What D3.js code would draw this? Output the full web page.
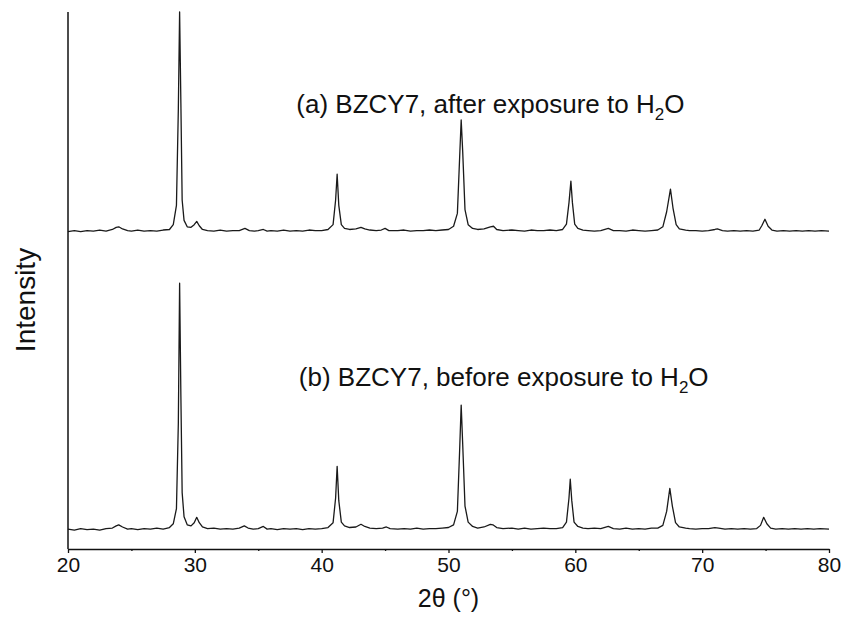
<!DOCTYPE html>
<html>
<head>
<meta charset="utf-8">
<script src="https://cdn.jsdelivr.net/npm/d3@7"></script>
<style>
  body { margin: 0; background: #fff; }
  svg { display: block; font-family: "Liberation Sans", Arial, Helvetica, sans-serif; }
  .trace { fill: none; stroke: #1a1a1a; stroke-width: 1.3; stroke-linejoin: round; }
</style>
</head>
<body>
<svg id="chart" width="846" height="617"></svg>
<script>
// x range (2 theta, degrees) and tick values
const xDomain = [20, 80];
const majorTicks = [20, 30, 40, 50, 60, 70, 80];
const minorTicks = [25, 35, 45, 55, 65, 75];

// intensity, arbitrary units; each trace is drawn on its own offset
const offsetA = 590;
const offsetB = 35;

// (a) BZCY7 after exposure to H2O, [2theta, net intensity]
const traceA = [
  [20.0, 1], [20.5, 3], [21, 1], [21.5, 3], [22, 2], [22.5, 4], [23, 2], [23.5, 5], [23.8, 9], [24.0, 10],
  [24.3, 6], [24.7, 3], [25, 2], [25.5, 4], [26, 2], [26.5, 3], [27, 2], [27.5, 4], [28, 5], [28.3, 14],
  [28.55, 50], [28.7, 230], [28.8, 410], [28.9, 240], [29.0, 60], [29.15, 22], [29.4, 10], [29.7, 9],
  [29.95, 14], [30.15, 20], [30.35, 12], [30.6, 5], [31, 3], [31.5, 2], [32, 4], [32.5, 2], [33, 3],
  [33.5, 3], [33.95, 7], [34.3, 3], [34.7, 2], [35, 3], [35.4, 5], [35.7, 2], [36, 3], [36.5, 2], [37, 4],
  [37.5, 2], [38, 3], [38.5, 2], [39, 4], [39.5, 3], [40, 3], [40.5, 5], [40.9, 14], [41.1, 60],
  [41.22, 108], [41.35, 50], [41.55, 14], [41.8, 7], [42.2, 5], [42.7, 6], [43.1, 9], [43.4, 6], [43.8, 4],
  [44.3, 3], [44.7, 4], [45.0, 7], [45.3, 3], [46, 3], [46.5, 4], [47, 2], [47.5, 3], [48, 3], [48.5, 4],
  [49, 3], [49.5, 4], [50, 5], [50.4, 11], [50.7, 35], [50.88, 140], [51.0, 209], [51.12, 150], [51.3, 42],
  [51.55, 14], [51.9, 7], [52.3, 5], [52.8, 6], [53.3, 10], [53.55, 11], [53.8, 5], [54.3, 3], [55, 4],
  [55.5, 3], [56, 2], [56.5, 4], [57, 3], [57.5, 3], [58, 4], [58.5, 3], [59, 5], [59.3, 15], [59.5, 55],
  [59.65, 95], [59.77, 55], [59.95, 15], [60.2, 7], [60.6, 4], [61, 3], [61.5, 2], [62, 3], [62.6, 7],
  [63, 3], [63.5, 3], [64, 2], [64.5, 4], [65, 3], [65.5, 2], [66, 3], [66.5, 4], [66.9, 10], [67.2, 38],
  [67.5, 80], [67.7, 45], [67.95, 14], [68.2, 6], [68.7, 4], [69, 3], [69.5, 3], [70, 2], [70.5, 3],
  [71, 5], [71.2, 6], [71.6, 3], [72, 2], [72.5, 3], [73, 2], [73.5, 3], [74, 2], [74.5, 4], [74.7, 12],
  [74.95, 24], [75.2, 11], [75.5, 4], [75.9, 2], [76.4, 3], [76.9, 2], [77.4, 3], [77.9, 2], [78.4, 3],
  [78.9, 2], [79.4, 3], [80, 2]
];

// (b) BZCY7 before exposure to H2O
const traceB = [
  [20.0, 2], [20.5, 0], [21, 3], [21.5, 1], [22, 2], [22.5, 0], [23, 3], [23.5, 4], [23.8, 8], [24.0, 10],
  [24.3, 6], [24.7, 2], [25, 3], [25.5, 1], [26, 3], [26.5, 2], [27, 4], [27.5, 2], [28, 5], [28.3, 12],
  [28.55, 40], [28.7, 200], [28.8, 460], [28.9, 250], [29.0, 70], [29.15, 25], [29.4, 10], [29.7, 8],
  [29.95, 14], [30.15, 24], [30.35, 14], [30.6, 6], [31, 3], [31.5, 4], [32, 2], [32.5, 3], [33, 2],
  [33.5, 4], [33.9, 8], [34.2, 4], [34.6, 2], [35, 3], [35.4, 7], [35.7, 2], [36, 3], [36.5, 1], [37, 3],
  [37.5, 2], [38, 3], [38.5, 1], [39, 3], [39.5, 2], [40, 3], [40.5, 5], [40.9, 14], [41.1, 60],
  [41.22, 119], [41.35, 55], [41.55, 15], [41.8, 8], [42.2, 5], [42.7, 6], [43.1, 11], [43.4, 7], [43.8, 4],
  [44.3, 3], [44.8, 4], [45.1, 6], [45.4, 3], [46, 2], [46.5, 3], [47, 2], [47.5, 4], [48, 2], [48.5, 3],
  [49, 3], [49.5, 4], [50, 5], [50.4, 10], [50.7, 35], [50.88, 150], [51.0, 233], [51.12, 160], [51.3, 45],
  [51.55, 15], [51.9, 7], [52.3, 4], [52.8, 6], [53.3, 11], [53.5, 10], [53.8, 5], [54.3, 3], [55, 4],
  [55.5, 2], [56, 4], [56.5, 2], [57, 3], [57.5, 4], [58, 3], [58.5, 3], [59, 5], [59.3, 15], [59.5, 60],
  [59.6, 95], [59.72, 55], [59.9, 15], [60.2, 7], [60.6, 4], [61, 3], [61.5, 4], [62, 3], [62.6, 7],
  [63, 3], [63.5, 2], [64, 4], [64.5, 2], [65, 3], [65.5, 2], [66, 4], [66.5, 4], [66.9, 9], [67.2, 35],
  [67.45, 78], [67.65, 45], [67.9, 14], [68.2, 6], [68.7, 4], [69, 3], [69.5, 2], [70, 3], [70.5, 3],
  [71, 5], [71.3, 4], [71.8, 2], [72.3, 3], [72.8, 2], [73.3, 3], [73.8, 2], [74.3, 3], [74.6, 9],
  [74.85, 24], [75.1, 12], [75.4, 4], [75.8, 2], [76.3, 3], [76.8, 2], [77.3, 3], [77.8, 2], [78.3, 3],
  [78.8, 2], [79.3, 3], [80, 2]
];

const svg = d3.select('#chart');
const margin = { top: 12, right: 17, bottom: 68, left: 68 };
const W = 846, H = 617;

const x = d3.scaleLinear().domain(xDomain).range([margin.left, W - margin.right]);
const y = d3.scaleLinear().domain([0, 1000]).range([H - margin.bottom, margin.top]);

// traces
function drawTrace(data, offset) {
  const line = d3.line()
    .x(d => x(d[0]))
    .y(d => y(d[1] + offset));
  svg.append('path')
    .attr('class', 'trace')
    .attr('d', line(data));
}
drawTrace(traceA, offsetA);
drawTrace(traceB, offsetB);

// x axis
const xAxis = svg.append('g')
  .attr('transform', `translate(0,${y(0)})`)
  .call(d3.axisBottom(x).tickValues(majorTicks).tickSize(4).tickPadding(4).tickSizeOuter(0));
xAxis.select('.domain').attr('stroke', '#111').attr('stroke-width', 1.5);
xAxis.selectAll('.tick line').attr('stroke', '#111').attr('stroke-width', 1.3);
xAxis.selectAll('.tick text')
  .attr('font-size', 21)
  .attr('fill', '#111')
  .attr('font-family', '"Liberation Sans", Arial, sans-serif');

const xMinor = svg.append('g')
  .attr('transform', `translate(0,${y(0)})`)
  .call(d3.axisBottom(x).tickValues(minorTicks).tickSize(2).tickFormat(''));
xMinor.select('.domain').remove();
xMinor.selectAll('.tick line').attr('stroke', '#111').attr('stroke-width', 1.3);

// y axis: plain line, no ticks
svg.append('line')
  .attr('x1', x(20)).attr('x2', x(20))
  .attr('y1', y(1000)).attr('y2', y(0))
  .attr('stroke', '#111').attr('stroke-width', 1.5);

// axis titles
svg.append('text')
  .attr('x', x(50)).attr('y', 607)
  .attr('text-anchor', 'middle')
  .attr('font-size', 25)
  .attr('fill', '#111')
  .text('2θ (°)');

svg.append('text')
  .attr('transform', 'translate(35,300) rotate(-90)')
  .attr('text-anchor', 'middle')
  .attr('font-size', 28)
  .attr('fill', '#111')
  .text('Intensity');

// trace labels with subscript 2
function label(xv, yPix, txt) {
  const t = svg.append('text')
    .attr('x', x(xv)).attr('y', yPix)
    .attr('font-size', 26)
    .attr('fill', '#111');
  t.append('tspan').text(txt + ' H');
  t.append('tspan').attr('font-size', 17).attr('dy', 7).text('2');
  t.append('tspan').attr('dy', -7).text('O');
}
label(38.0, 113, '(a) BZCY7, after exposure to');
label(38.2, 386, '(b) BZCY7, before exposure to');
</script>
</body>
</html>
